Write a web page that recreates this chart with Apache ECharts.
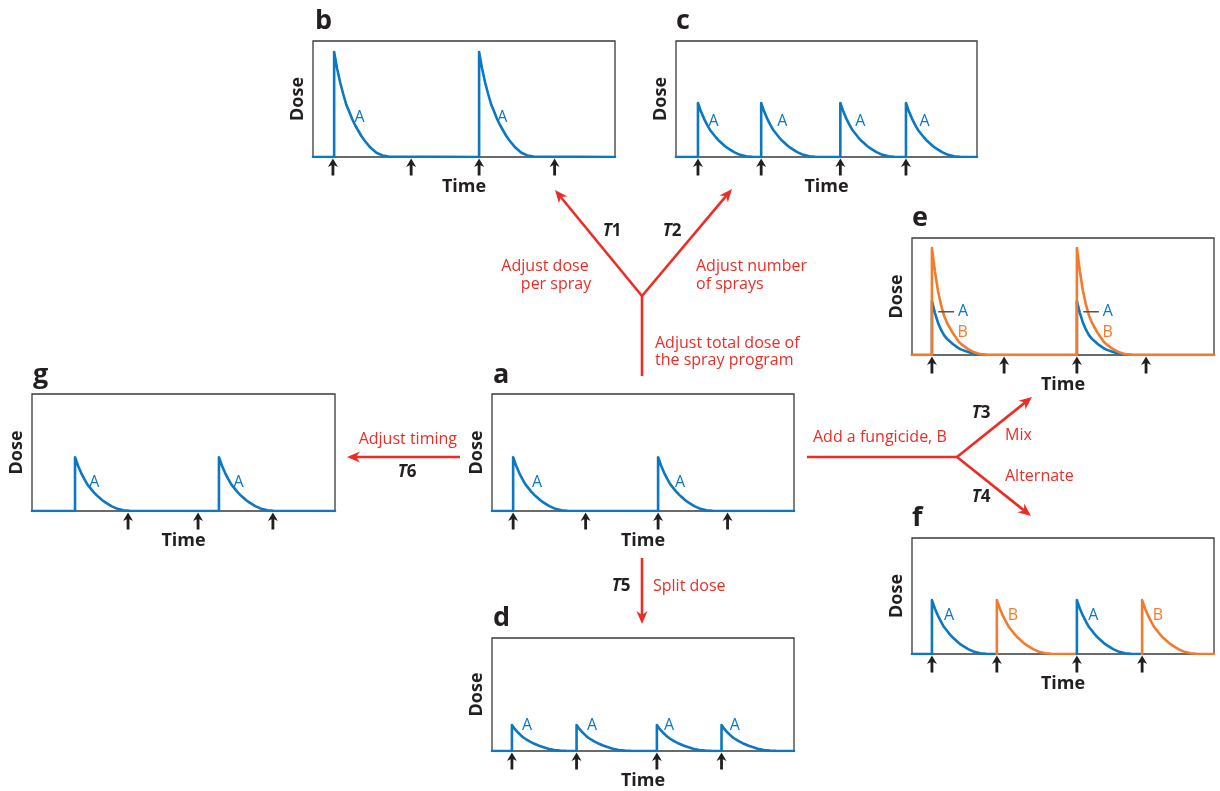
<!DOCTYPE html>
<html><head><meta charset="utf-8">
<script src="https://cdn.jsdelivr.net/npm/echarts@6/dist/echarts.min.js"></script>
<style>html,body{margin:0;padding:0;background:#fff}#c{width:1220px;height:791px}</style>
</head><body><div id="c"></div>
<script>
// ---------- data (time in % of panel width, dose as fraction of panel height) ----------
// decay shape of one spray (offset after spray, fraction of peak dose)
const decayOffsets   = [0, 1, 2, 3, 4, 5, 6, 7, 8, 9, 10, 12, 14, 16, 18];
const decayFractions = [1, 0.84, 0.71, 0.6, 0.5, 0.43, 0.36, 0.3, 0.25, 0.2, 0.16, 0.09, 0.04, 0.015, 0.004];
// faster decay seen in the mixture panel (e)
const decayFractionsMix = [1, 0.78, 0.6, 0.47, 0.37, 0.3, 0.25, 0.2, 0.16, 0.12, 0.095, 0.055, 0.025, 0.008, 0.002];

// panel a (reference program)
const sprayTimesA = [7, 31, 55, 78];
const peakTimesA = [7, 55];
const peakDoseA = 0.46;
const labelsA = [[14.9, 0.24], [62.3, 0.24]];
// panel b (T1: adjust dose per spray)
const sprayTimesB = [6.6, 32.5, 55, 80];
const peakTimesB = [7, 55];
const peakDoseB = 0.905;
const labelsB = [[15.4, 0.345], [62.7, 0.345]];
// panel c (T2: adjust number of sprays)
const sprayTimesC = [7.3, 28.3, 54.6, 76.4];
const peakTimesC = [7.3, 28.3, 54.6, 76.4];
const peakDoseC = 0.466;
const labelsC = [[12.5, 0.31], [35.3, 0.31], [61.2, 0.31], [82.6, 0.31]];
// panel d (T5: split dose)
const sprayTimesD = [6.6, 28, 54.6, 76];
const peakTimesD = [6.6, 28, 54.6, 76];
const peakDoseD = 0.23;
const labelsD = [[11.6, 0.224], [33.1, 0.224], [58.6, 0.224], [80.4, 0.224]];
// panel e (T3: mix A and B)
const sprayTimesE = [6.6, 30.5, 54.6, 77.5];
const peakTimesE = [6.6, 54.6];
const peakDoseE_A = 0.46;
const peakDoseE_B = 0.915;
const labelsE_A = [[16.9, 0.37], [64.8, 0.37]];
const labelsE_B = [[16.8, 0.19], [64.8, 0.19]];
const leadersE = [[8.7, 13.9, 0.37], [56.7, 61.9, 0.37]];
// panel f (T4: alternate A and B)
const sprayTimesF = [6.6, 28.1, 54.6, 76.2];
const peakTimesF_A = [6.6, 54.6];
const peakTimesF_B = [28.1, 76.2];
const peakDoseF = 0.465;
const labelsF_A = [[12.3, 0.336], [60.0, 0.336]];
const labelsF_B = [[33.4, 0.336], [81.4, 0.336]];
// panel g (T6: adjust timing)
const sprayTimesG = [31.7, 54.8, 79.5];
const peakTimesG = [14.2, 61.7];
const peakDoseG = 0.46;
const labelsG = [[20.6, 0.24], [68.2, 0.24]];

// ---------- styles / layout ----------
const BLUE = '#0b78c1', ORANGE = '#f27b2d', RED = '#ec2d26', INK = '#231f20';
const FONT = '"Open Sans", "Noto Sans", sans-serif';
const layout = {
  a: [492, 394, 302, 117], b: [313, 41, 302, 116], c: [676, 41, 301, 116],
  d: [492, 638, 302, 116], e: [912, 238, 302, 117], f: [912, 538, 302, 116],
  g: [32, 394, 303, 117]
};
const order = ['a', 'b', 'c', 'd', 'e', 'f', 'g'];
const idx = {}; order.forEach((k, i) => idx[k] = i);

function buildCurve(peaks, h, start, end, fr) {
  fr = fr || decayFractions;
  const pts = [[start, 0]];
  peaks.forEach((p, j) => {
    const next = j + 1 < peaks.length ? peaks[j + 1] : end;
    pts.push([p, 0], [p, h]);
    for (let q = 1; q < decayOffsets.length; q++) {
      const t = p + decayOffsets[q];
      if (t < next) pts.push([t, h * fr[q]]);
    }
  });
  pts.push([end, 0]);
  return pts;
}

const grids = [], xAxes = [], yAxes = [], series = [];
order.forEach((k, i) => {
  const [l, t, w, h] = layout[k];
  grids.push({ left: l, top: t, width: w, height: h, show: true, borderColor: '#3a3a3a', borderWidth: 1.3, backgroundColor: 'transparent' });
  xAxes.push({ gridIndex: i, type: 'value', min: 0, max: 100, axisLine: { show: false }, axisTick: { show: false }, axisLabel: { show: false }, splitLine: { show: false },
    name: 'Time', nameLocation: 'middle', nameGap: 21, nameTextStyle: { fontFamily: FONT, fontWeight: 'bold', fontSize: 18, color: INK } });
  yAxes.push({ gridIndex: i, type: 'value', min: 0, max: 1, axisLine: { show: false }, axisTick: { show: false }, axisLabel: { show: false }, splitLine: { show: false },
    name: 'Dose', nameLocation: 'middle', nameGap: 6, nameRotate: 90, nameTextStyle: { fontFamily: FONT, fontWeight: 'bold', fontSize: 18, color: INK } });
});

function addLine(k, data, color) {
  series.push({ type: 'line', xAxisIndex: idx[k], yAxisIndex: idx[k], data, showSymbol: false, symbol: 'none', silent: true,
    lineStyle: { color, width: 2.6, join: 'round', cap: 'round' }, z: 3 });
}
const ARROW = 'path://M5,0 L10,8.5 L6.4,6.8 L6.4,17 L3.6,17 L3.6,6.8 L0,8.5 Z';
function addSprays(k, times) {
  series.push({ type: 'scatter', xAxisIndex: idx[k], yAxisIndex: idx[k], data: times.map(t => [t, 0]), clip: false, silent: true,
    symbol: ARROW, symbolSize: [10, 17], symbolOffset: [0, 10], itemStyle: { color: INK, opacity: 1 }, z: 4 });
}
function addLabels(k, list, text, color) {
  series.push({ type: 'scatter', xAxisIndex: idx[k], yAxisIndex: idx[k], data: list, symbolSize: 2, itemStyle: { color: 'rgba(0,0,0,0)', opacity: 1 }, silent: true,
    label: { show: true, position: 'inside', formatter: text, color, opacity: 1, fontFamily: FONT, fontSize: 16, textBorderWidth: 0, textBorderColor: 'transparent' }, z: 5 });
}

// a
addLine('a', buildCurve(peakTimesA, peakDoseA, 0, 100), BLUE); addSprays('a', sprayTimesA); addLabels('a', labelsA, 'A', BLUE);
// b
addLine('b', buildCurve(peakTimesB, peakDoseB, 0, 100), BLUE); addSprays('b', sprayTimesB); addLabels('b', labelsB, 'A', BLUE);
// c
addLine('c', buildCurve(peakTimesC, peakDoseC, 0, 100), BLUE); addSprays('c', sprayTimesC); addLabels('c', labelsC, 'A', BLUE);
// d
addLine('d', buildCurve(peakTimesD, peakDoseD, 0, 100), BLUE); addSprays('d', sprayTimesD); addLabels('d', labelsD, 'A', BLUE);
// e
addLine('e', buildCurve(peakTimesE, peakDoseE_A, 0, 100, decayFractionsMix), BLUE);
addLine('e', buildCurve(peakTimesE, peakDoseE_B, 0, 100, decayFractionsMix), ORANGE);
addSprays('e', sprayTimesE); addLabels('e', labelsE_A, 'A', BLUE); addLabels('e', labelsE_B, 'B', ORANGE);
leadersE.forEach(([x1, x2, y]) => series.push({ type: 'line', xAxisIndex: idx.e, yAxisIndex: idx.e, data: [[x1, y], [x2, y]], symbol: 'none', silent: true,
  lineStyle: { color: '#555', width: 1.4 }, z: 5 }));
// f
addLine('f', buildCurve([peakTimesF_A[0]], peakDoseF, 0, peakTimesF_B[0]), BLUE);
addLine('f', buildCurve([peakTimesF_B[0]], peakDoseF, peakTimesF_B[0], peakTimesF_A[1]), ORANGE);
addLine('f', buildCurve([peakTimesF_A[1]], peakDoseF, peakTimesF_A[1], peakTimesF_B[1]), BLUE);
addLine('f', buildCurve([peakTimesF_B[1]], peakDoseF, peakTimesF_B[1], 100), ORANGE);
addSprays('f', sprayTimesF); addLabels('f', labelsF_A, 'A', BLUE); addLabels('f', labelsF_B, 'B', ORANGE);
// g
addLine('g', buildCurve(peakTimesG, peakDoseG, 0, 100), BLUE); addSprays('g', sprayTimesG); addLabels('g', labelsG, 'A', BLUE);

// ---------- annotations ----------
const graphic = [];
function txt(x, y, text, o) {
  o = o || {};
  graphic.push({ type: 'text', x, y, silent: true, style: Object.assign({ text, fill: o.fill || RED, fontFamily: FONT, fontSize: o.size || 16,
    fontWeight: o.weight || 'normal', textAlign: o.align || 'left', textVerticalAlign: 'middle' }, o.extra || {}) });
}
function tLabel(x, y, n) {
  graphic.push({ type: 'text', x, y, silent: true, style: { text: '{t|T}{n|' + n + '}', textAlign: 'center', textVerticalAlign: 'middle',
    rich: { t: { fontFamily: FONT, fontSize: 17, fontWeight: 'bold', fontStyle: 'italic', fill: INK, color: INK },
            n: { fontFamily: FONT, fontSize: 17, fontWeight: 'bold', fill: INK, color: INK } } } });
}
function seg(x1, y1, x2, y2) {
  graphic.push({ type: 'line', silent: true, shape: { x1, y1, x2, y2 }, style: { stroke: RED, lineWidth: 2.6, lineCap: 'butt' } });
}
function redArrow(x1, y1, x2, y2) {
  const a = Math.atan2(y2 - y1, x2 - x1), c = Math.cos(a), s = Math.sin(a);
  const pt = (u, v) => [x2 + u * c - v * s, y2 + u * s + v * c];
  const L = 13, W = 5.5, N = 9;
  const b = pt(-N, 0);
  seg(x1, y1, b[0], b[1]);
  graphic.push({ type: 'polygon', silent: true, shape: { points: [pt(0, 0), pt(-L, W), pt(-N, 0), pt(-L, -W)] }, style: { fill: RED } });
}

// panel letters
const letterPos = { a: [493, 375], b: [315, 21], c: [676, 21], d: [493, 618], e: [912, 218], f: [912, 518], g: [33, 375] };
order.forEach(k => txt(letterPos[k][0], letterPos[k][1], k, { fill: INK, size: 27, weight: 'bold' }));

// total dose branch
seg(642, 376, 642, 296);
redArrow(642, 296, 555, 190);
redArrow(642, 296, 732, 189);
tLabel(612, 231, '1'); tLabel(672, 231, '2');
txt(545, 266, 'Adjust dose', { align: 'center' }); txt(556, 284, 'per spray', { align: 'center' });
txt(696, 266, 'Adjust number'); txt(696, 284, 'of sprays');
txt(655, 343, 'Adjust total dose of'); txt(655, 360, 'the spray program');
// fungicide branch
seg(807, 457, 957, 457);
redArrow(957, 457, 1032, 397);
redArrow(957, 457, 1031, 516);
txt(813, 437, 'Add a fungicide, B');
tLabel(981, 413, '3'); tLabel(981, 497, '4');
txt(1005, 435, 'Mix'); txt(1005, 476, 'Alternate');
// timing
redArrow(460, 457, 347, 457);
txt(457, 439, 'Adjust timing', { align: 'right' });
tLabel(407, 472, '6');
// split
redArrow(642, 558, 642, 624);
tLabel(621, 586, '5');
txt(653, 586, 'Split dose');

const chart = echarts.init(document.getElementById('c'), null, { renderer: 'canvas' });
chart.setOption({ animation: false, backgroundColor: '#fff', grid: grids, xAxis: xAxes, yAxis: yAxes, series, graphic });
</script>
</body></html>
